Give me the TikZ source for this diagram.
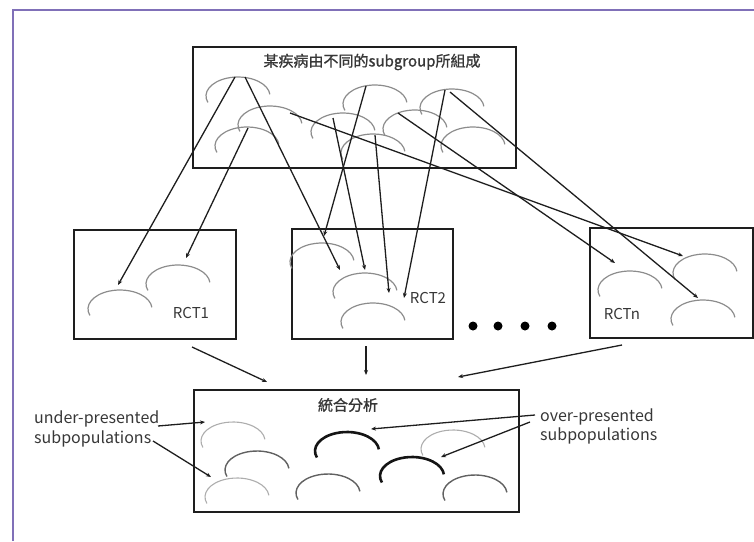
\documentclass[tikz,border=0pt]{standalone}
\usepackage{fontspec}
\setmainfont{Noto Sans CJK TC}
\newfontfamily\titlefont[FakeBold=1.2]{Noto Sans CJK TC}
\usetikzlibrary{arrows.meta}
\definecolor{framec}{RGB}{128,112,184}
\definecolor{ink}{RGB}{30,30,30}
\definecolor{txt}{RGB}{55,55,55}
\tikzset{
  box/.style={draw=ink, line width=1.8pt, inner sep=0pt, anchor=north west},
  conn/.style={draw=ink, line width=1.3pt, -{Stealth[length=5pt,width=4pt]}},
  lbl/.style={text=txt, font=\fontsize{15}{18}\selectfont, inner sep=0pt},
  side/.style={lbl, font=\fontsize{16}{19}\selectfont, anchor=west},
  arch/.pic={\draw[shift={(0pt,-19pt)}] (200:32pt and 19pt) arc[start angle=200, end angle=5, x radius=32pt, y radius=19pt];},
  archmid/.style={color=black!45, line width=1.2pt},
  archlight/.style={color=black!32, line width=1.1pt},
  archdark/.style={color=black!62, line width=1.4pt},
  archbold/.style={color=black!92, line width=2.6pt},
  dot/.style={circle, fill=black, inner sep=0pt, minimum size=9pt}
}
\begin{document}
\begin{tikzpicture}[x=1pt,y=-1pt]
\useasboundingbox (0,0) rectangle (754,541);
% frame
\draw[framec, line width=2pt] (13,541) -- (13,10) -- (754,10);

% boxes
\node[box, minimum width=323pt, minimum height=121pt] (top) at (192,46) {};
\node[box, minimum width=162pt, minimum height=109pt] (rct1) at (73,229) {};
\node[box, minimum width=161pt, minimum height=110pt] (rct2) at (291,228) {};
\node[box, minimum width=163pt, minimum height=110pt] (rctn) at (589,227) {};
\node[box, minimum width=325pt, minimum height=122pt] (meta) at (193,389) {};

% texts
\node[lbl, font=\titlefont\fontsize{15}{18}\selectfont] (title) at (372,62) {某疾病由不同的subgroup所組成};
\node[lbl] (t1) at (191,313) {RCT1};
\node[lbl] (t2) at (428,298) {RCT2};
\node[lbl] (tn) at (622,314) {RCTn};
\node[lbl, font=\titlefont\fontsize{15}{18}\selectfont] (tm) at (348,405) {統合分析};
\node[side] (u1) at (34,419) {under-presented};
\node[side] (u2) at (34,439) {subpopulations};
\node[side] (o1) at (540,417) {over-presented};
\node[side] (o2) at (540,436) {subpopulations};

% dots
\node[dot] (d1) at (473,326) {};
\node[dot] (d2) at (498,326) {};
\node[dot] (d3) at (525,326) {};
\node[dot] (d4) at (552,326) {};

% arches in the top box (apex positions)
\pic[archmid] at (238,77) {arch};
\pic[archmid] at (270,106) {arch};
\pic[archmid] at (247,127) {arch};
\pic[archmid] at (343,113) {arch};
\pic[archmid] at (375,85) {arch};
\pic[archmid] at (373,134) {arch};
\pic[archmid] at (415,110) {arch};
\pic[archmid] at (452,89) {arch};
\pic[archmid] at (473,127) {arch};

% arches in RCT boxes
\pic[archmid] at (120,290) {arch};
\pic[archmid] at (178,265) {arch};
\pic[archmid] at (322,243) {arch};
\pic[archmid] at (365,273) {arch};
\pic[archmid] at (373,303) {arch};
\pic[archmid] at (630,271) {arch};
\pic[archmid] at (705,254) {arch};
\pic[archmid] at (703,300) {arch};

% arches in the meta-analysis box
\pic[archlight] at (233,422) {arch};
\pic[archdark] at (257,451) {arch};
\pic[archlight] at (237,478) {arch};
\pic[archdark] at (328,474) {arch};
\pic[archbold] at (347,432) {arch};
\pic[archbold] at (412,457) {arch};
\pic[archlight] at (453,430) {arch};
\pic[archdark] at (475,475) {arch};

% connector end points
\coordinate (s1) at (235,77);  \coordinate (e1) at (118,285);
\coordinate (s2) at (245,77);  \coordinate (e2) at (340,270);
\coordinate (s3) at (248,128); \coordinate (e3) at (186,258);
\coordinate (s4) at (290,113); \coordinate (e4) at (683,256);
\coordinate (s5) at (398,113); \coordinate (e5) at (615,263);
\coordinate (s6) at (450,92);  \coordinate (e6) at (698,298);
\coordinate (s7) at (445,90);  \coordinate (e7) at (404,298);
\coordinate (s8) at (366,86);  \coordinate (e8) at (324,236);
\coordinate (s9) at (333,118); \coordinate (e9) at (365,270);
\coordinate (s10) at (375,135); \coordinate (e10) at (389,293);

\coordinate (b1s) at (192,347); \coordinate (b1e) at (267,382);
\coordinate (b2s) at (366,346); \coordinate (b2e) at (366,375);
\coordinate (b3s) at (622,345); \coordinate (b3e) at (458,377);

\coordinate (u1s) at (158,426); \coordinate (u1e) at (205,422);
\coordinate (u2s) at (153,441); \coordinate (u2e) at (211,477);
\coordinate (o1s) at (535,415); \coordinate (o1e) at (371,429);
\coordinate (o2s) at (530,422); \coordinate (o2e) at (441,457);

\foreach \i in {1,...,10} {\draw[conn] (s\i) -- (e\i);}
\draw[conn] (b1s) -- (b1e);
\draw[conn] (b2s) -- (b2e);
\draw[conn] (b3s) -- (b3e);
\draw[conn] (u1s) -- (u1e);
\draw[conn] (u2s) -- (u2e);
\draw[conn] (o1s) -- (o1e);
\draw[conn] (o2s) -- (o2e);
\end{tikzpicture}
\end{document}
